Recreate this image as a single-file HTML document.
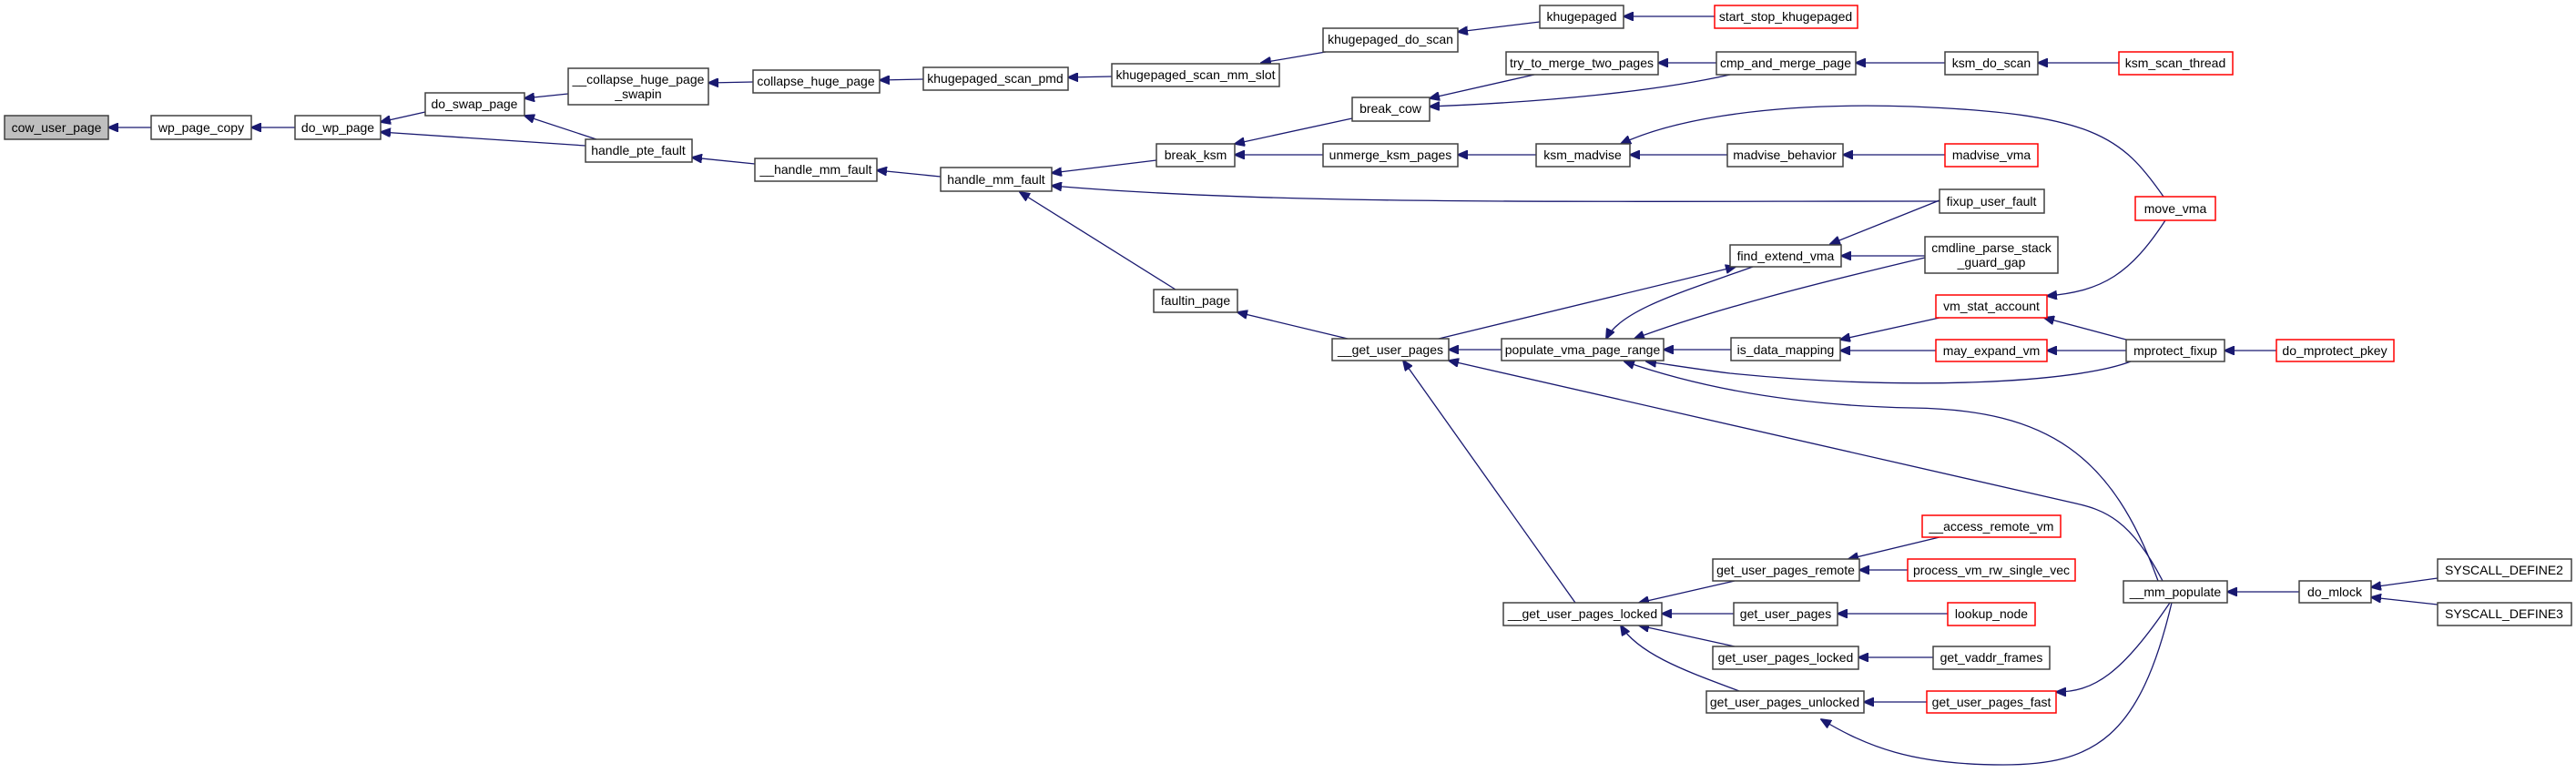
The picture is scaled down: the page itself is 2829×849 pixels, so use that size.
<!DOCTYPE html>
<html><head><meta charset="utf-8"><style>
html,body{margin:0;padding:0;background:#fff;}
svg{display:block;}
text{font-family:"Liberation Sans",Helvetica,Arial,sans-serif;font-size:14px;fill:#000;text-anchor:middle;}
.n{fill:#fff;stroke:#404040;stroke-width:1.5;}
.r{fill:#fff;stroke:#ff0000;stroke-width:1.5;}
.g{fill:#bfbfbf;stroke:#404040;stroke-width:1.5;}
path{fill:none;stroke:#191970;stroke-width:1.3;}
</style></head><body>
<svg width="2829" height="849" viewBox="0 0 2829 849" xmlns="http://www.w3.org/2000/svg">
<defs><marker id="a" markerWidth="12" markerHeight="10" refX="11" refY="5" orient="auto" markerUnits="userSpaceOnUse"><path d="M0,0 L12,5 L0,10 Z" style="fill:#191970;stroke:#191970;stroke-width:1"/></marker></defs>
<g marker-end="url(#a)">
<path d="M166,140 L119,140"/>
<path d="M324,140 L276,140"/>
<path d="M467,123 L418,134"/>
<path d="M643,160 L418,145"/>
<path d="M624,103 L576,108"/>
<path d="M655,153 L576,127"/>
<path d="M827,90 L778,91"/>
<path d="M1014,87 L966,88"/>
<path d="M1221,84 L1173,85"/>
<path d="M1456,57 L1385,69"/>
<path d="M1691,24 L1601,35"/>
<path d="M1883,18 L1783,18"/>
<path d="M829,180 L760,173"/>
<path d="M1033,194 L963,187"/>
<path d="M1270,176 L1155,190"/>
<path d="M2130,221 C1700,221 1400,225 1155,204"/>
<path d="M1291,318 L1120,211"/>
<path d="M1485,130 L1356,158"/>
<path d="M1453,170 L1356,170"/>
<path d="M1685,82 L1570,108"/>
<path d="M1900,82 C1820,100 1700,112 1570,117"/>
<path d="M1885,69 L1821,69"/>
<path d="M2136,69 L2038,69"/>
<path d="M2327,69 L2238,69"/>
<path d="M1687,170 L1601,170"/>
<path d="M1897,170 L1790,170"/>
<path d="M2376,216 C2330,150 2300,125 2100,117 C1950,112 1840,130 1780,158"/>
<path d="M2136,170 L2024,170"/>
<path d="M1480,372 L1359,343"/>
<path d="M1649,384 L1591,384"/>
<path d="M1730,662 L1541,396"/>
<path d="M2375,638 C2340,570 2310,560 2280,553 L1591,396"/>
<path d="M1580,372 L1906,293"/>
<path d="M1925,293 C1850,320 1780,340 1764,372"/>
<path d="M2114,283 C2000,310 1880,340 1795,372"/>
<path d="M2130,220 L2010,268"/>
<path d="M2114,281 L2022,281"/>
<path d="M1901,384 L1827,384"/>
<path d="M2340,397 C2280,420 2100,430 1900,410 C1860,405 1830,400 1808,397"/>
<path d="M2370,638 C2320,500 2250,450 2100,448 C1950,445 1850,420 1784,397"/>
<path d="M2130,349 L2021,373"/>
<path d="M2126,385 L2021,385"/>
<path d="M2378,242 C2340,300 2310,320 2248,325"/>
<path d="M2335,373 L2245,349"/>
<path d="M2335,385 L2248,385"/>
<path d="M2500,385 L2443,385"/>
<path d="M1905,638 L1800,662"/>
<path d="M1904,674 L1825,674"/>
<path d="M1905,710 L1800,687"/>
<path d="M1910,759 C1860,740 1800,720 1780,687"/>
<path d="M2130,590 L2030,614"/>
<path d="M2095,626 L2042,626"/>
<path d="M2139,674 L2018,674"/>
<path d="M2123,722 L2041,722"/>
<path d="M2116,771 L2047,771"/>
<path d="M2383,662 C2330,740 2300,760 2258,760"/>
<path d="M2385,662 C2350,810 2300,840 2200,840 C2100,840 2050,820 2000,790"/>
<path d="M2525,650 L2446,650"/>
<path d="M2677,635 L2604,645"/>
<path d="M2677,664 L2604,656"/>
</g>
<rect class="g" x="5" y="127" width="114" height="26"/><text x="62" y="145">cow_user_page</text>
<rect class="n" x="166" y="127" width="110" height="26"/><text x="221" y="145">wp_page_copy</text>
<rect class="n" x="324" y="127" width="94" height="26"/><text x="371" y="145">do_wp_page</text>
<rect class="n" x="467" y="102" width="109" height="25"/><text x="521" y="119">do_swap_page</text>
<rect class="n" x="624" y="75" width="154" height="40"/><text x="701" y="92">__collapse_huge_page</text><text x="701" y="108">_swapin</text>
<rect class="n" x="827" y="77" width="139" height="25"/><text x="896" y="94">collapse_huge_page</text>
<rect class="n" x="643" y="153" width="117" height="25"/><text x="701" y="170">handle_pte_fault</text>
<rect class="n" x="829" y="174" width="134" height="25"/><text x="896" y="191">__handle_mm_fault</text>
<rect class="n" x="1014" y="74" width="159" height="25"/><text x="1093" y="91">khugepaged_scan_pmd</text>
<rect class="n" x="1221" y="70" width="184" height="25"/><text x="1313" y="87">khugepaged_scan_mm_slot</text>
<rect class="n" x="1453" y="31" width="148" height="26"/><text x="1527" y="48">khugepaged_do_scan</text>
<rect class="n" x="1691" y="6" width="92" height="25"/><text x="1737" y="23">khugepaged</text>
<rect class="r" x="1883" y="6" width="157" height="25"/><text x="1961" y="23">start_stop_khugepaged</text>
<rect class="n" x="1654" y="57" width="167" height="25"/><text x="1737" y="74">try_to_merge_two_pages</text>
<rect class="n" x="1885" y="57" width="153" height="25"/><text x="1961" y="74">cmp_and_merge_page</text>
<rect class="n" x="2136" y="57" width="102" height="25"/><text x="2187" y="74">ksm_do_scan</text>
<rect class="r" x="2327" y="57" width="125" height="25"/><text x="2389" y="74">ksm_scan_thread</text>
<rect class="n" x="1485" y="107" width="85" height="26"/><text x="1527" y="124">break_cow</text>
<rect class="n" x="1270" y="158" width="86" height="25"/><text x="1313" y="175">break_ksm</text>
<rect class="n" x="1453" y="158" width="148" height="25"/><text x="1527" y="175">unmerge_ksm_pages</text>
<rect class="n" x="1687" y="158" width="103" height="25"/><text x="1738" y="175">ksm_madvise</text>
<rect class="n" x="1897" y="158" width="127" height="25"/><text x="1960" y="175">madvise_behavior</text>
<rect class="r" x="2136" y="158" width="102" height="25"/><text x="2187" y="175">madvise_vma</text>
<rect class="n" x="1033" y="184" width="122" height="26"/><text x="1094" y="202">handle_mm_fault</text>
<rect class="n" x="2130" y="208" width="115" height="26"/><text x="2187" y="226">fixup_user_fault</text>
<rect class="r" x="2345" y="216" width="88" height="26"/><text x="2389" y="234">move_vma</text>
<rect class="n" x="1267" y="318" width="92" height="25"/><text x="1313" y="335">faultin_page</text>
<rect class="n" x="1900" y="269" width="122" height="24"/><text x="1961" y="286">find_extend_vma</text>
<rect class="n" x="2114" y="260" width="146" height="40"/><text x="2187" y="277">cmdline_parse_stack</text><text x="2187" y="293">_guard_gap</text>
<rect class="r" x="2126" y="324" width="122" height="25"/><text x="2187" y="341">vm_stat_account</text>
<rect class="n" x="1463" y="372" width="128" height="24"/><text x="1527" y="389">__get_user_pages</text>
<rect class="n" x="1649" y="372" width="178" height="24"/><text x="1738" y="389">populate_vma_page_range</text>
<rect class="n" x="1901" y="371" width="120" height="25"/><text x="1961" y="389">is_data_mapping</text>
<rect class="r" x="2126" y="373" width="122" height="24"/><text x="2187" y="390">may_expand_vm</text>
<rect class="n" x="2335" y="373" width="108" height="24"/><text x="2389" y="390">mprotect_fixup</text>
<rect class="r" x="2500" y="373" width="129" height="24"/><text x="2564" y="390">do_mprotect_pkey</text>
<rect class="n" x="1651" y="662" width="174" height="25"/><text x="1738" y="679">__get_user_pages_locked</text>
<rect class="n" x="1881" y="614" width="161" height="24"/><text x="1961" y="631">get_user_pages_remote</text>
<rect class="n" x="1904" y="662" width="114" height="25"/><text x="1961" y="679">get_user_pages</text>
<rect class="n" x="1881" y="710" width="160" height="25"/><text x="1961" y="727">get_user_pages_locked</text>
<rect class="n" x="1874" y="759" width="173" height="24"/><text x="1960" y="776">get_user_pages_unlocked</text>
<rect class="r" x="2111" y="566" width="152" height="24"/><text x="2187" y="583">__access_remote_vm</text>
<rect class="r" x="2095" y="614" width="184" height="24"/><text x="2187" y="631">process_vm_rw_single_vec</text>
<rect class="r" x="2139" y="662" width="96" height="25"/><text x="2187" y="679">lookup_node</text>
<rect class="n" x="2123" y="710" width="128" height="25"/><text x="2187" y="727">get_vaddr_frames</text>
<rect class="r" x="2116" y="759" width="142" height="24"/><text x="2187" y="776">get_user_pages_fast</text>
<rect class="n" x="2332" y="638" width="114" height="24"/><text x="2389" y="655">__mm_populate</text>
<rect class="n" x="2525" y="638" width="79" height="24"/><text x="2564" y="655">do_mlock</text>
<rect class="n" x="2677" y="614" width="147" height="24"/><text x="2750" y="631">SYSCALL_DEFINE2</text>
<rect class="n" x="2677" y="662" width="147" height="25"/><text x="2750" y="679">SYSCALL_DEFINE3</text>
</svg>
</body></html>
